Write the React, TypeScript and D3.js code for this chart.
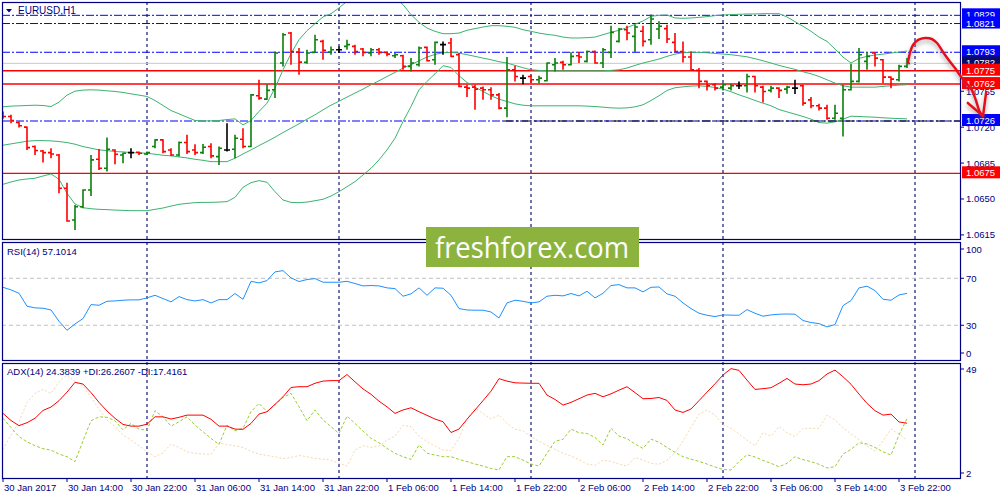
import React from "react";
import * as d3 from "d3";

// ---------- DATA (EURUSD H1, bar 0 = 30 Jan 2017 06:00) ----------
const opens = [
  1.07336,1.07304,1.07245,1.07200,1.07011,1.06968,1.06952,1.06929,1.06604,1.06295,
  1.06425,1.06588,1.06887,1.06799,1.06978,1.06929,1.06952,1.06955,1.06939,1.07011,
  1.07076,1.06978,1.06929,1.07050,1.06978,1.06952,1.07011,1.06913,1.06978,1.06985,
  1.07082,1.07011,1.07506,1.07473,1.07564,1.07825,1.08117,1.07932,1.07831,1.07929,
  1.08036,1.07932,1.07955,1.07987,1.07987,1.07961,1.07922,1.07955,1.07929,1.07896,
  1.07896,1.07792,1.07808,1.07978,1.07857,1.08004,1.08020,1.07906,1.07590,1.07590,
  1.07580,1.07564,1.07515,1.07385,1.07759,1.07678,1.07694,1.07662,1.07652,1.07808,
  1.07831,1.07808,1.07896,1.07841,1.07938,1.07825,1.07929,1.08036,1.08150,1.08085,
  1.08134,1.08052,1.08157,1.08160,1.08026,1.07938,1.07883,1.07753,1.07646,1.07613,
  1.07590,1.07580,1.07603,1.07603,1.07694,1.07590,1.07558,1.07580,1.07571,1.07580,
  1.07603,1.07466,1.07408,1.07385,1.07287,1.07287,1.07564,1.07646,1.07841,1.07922,
  1.07857,1.07688,1.07662,1.07792,
];
const highs = [
  1.07353,1.07320,1.07255,1.07206,1.07021,1.06978,1.06995,1.06939,1.06659,1.06441,
  1.06594,1.06929,1.06988,1.07099,1.06985,1.06952,1.06995,1.06962,1.06962,1.07082,
  1.07082,1.06995,1.07060,1.07125,1.07034,1.07037,1.07043,1.07011,1.07239,1.07125,
  1.07190,1.07522,1.07662,1.07619,1.07938,1.08117,1.08127,1.07971,1.07955,1.08101,
  1.08052,1.07987,1.07987,1.08052,1.08004,1.07971,1.07971,1.07971,1.07938,1.07922,
  1.07906,1.07873,1.07987,1.07987,1.08036,1.08036,1.08069,1.07922,1.07613,1.07613,
  1.07597,1.07590,1.07532,1.07883,1.07799,1.07711,1.07711,1.07701,1.07831,1.07873,
  1.07847,1.07929,1.07932,1.07948,1.07948,1.07971,1.08189,1.08166,1.08189,1.08199,
  1.08189,1.08297,1.08231,1.08199,1.08117,1.08036,1.07938,1.07776,1.07655,1.07629,
  1.07629,1.07623,1.07646,1.07720,1.07701,1.07603,1.07603,1.07590,1.07603,1.07662,
  1.07613,1.07493,1.07427,1.07418,1.07418,1.07613,1.07818,1.07971,1.07929,1.07929,
  1.07864,1.07694,1.07808,1.07873,
];
const lows = [
  1.07281,1.07239,1.07196,1.06978,1.06929,1.06855,1.06897,1.06555,1.06278,1.06197,
  1.06409,1.06529,1.06783,1.06767,1.06838,1.06848,1.06897,1.06929,1.06929,1.06995,
  1.06946,1.06920,1.06913,1.06939,1.06929,1.06939,1.06897,1.06832,1.06962,1.06897,
  1.06995,1.07004,1.07466,1.07466,1.07483,1.07792,1.07808,1.07711,1.07818,1.07922,
  1.07857,1.07906,1.07922,1.07955,1.07906,1.07890,1.07890,1.07906,1.07890,1.07873,
  1.07759,1.07743,1.07792,1.07841,1.07808,1.07906,1.07883,1.07590,1.07493,1.07369,
  1.07466,1.07466,1.07375,1.07297,1.07646,1.07619,1.07629,1.07629,1.07646,1.07743,
  1.07759,1.07802,1.07825,1.07831,1.07818,1.07776,1.07873,1.08026,1.08046,1.07932,
  1.07987,1.08004,1.08059,1.08020,1.07929,1.07831,1.07750,1.07580,1.07558,1.07558,
  1.07558,1.07558,1.07571,1.07538,1.07538,1.07440,1.07538,1.07483,1.07525,1.07522,
  1.07408,1.07385,1.07362,1.07271,1.07271,1.07108,1.07558,1.07636,1.07759,1.07792,
  1.07629,1.07580,1.07646,1.07776,
];
const closes = [
  1.07304,1.07265,1.07213,1.07001,1.06972,1.06952,1.06939,1.06604,1.06285,1.06425,
  1.06588,1.06881,1.06799,1.06985,1.06936,1.06946,1.06952,1.06946,1.06952,1.07076,
  1.06962,1.06929,1.07050,1.06962,1.06952,1.07004,1.06920,1.06995,1.06978,1.07092,
  1.07011,1.07515,1.07483,1.07558,1.07922,1.08101,1.07938,1.07834,1.07922,1.08052,
  1.07948,1.07955,1.07955,1.08004,1.07938,1.07929,1.07955,1.07929,1.07912,1.07906,
  1.07792,1.07825,1.07971,1.07847,1.08026,1.08004,1.07890,1.07597,1.07580,1.07571,
  1.07564,1.07515,1.07385,1.07759,1.07694,1.07678,1.07662,1.07678,1.07825,1.07825,
  1.07808,1.07890,1.07883,1.07938,1.07825,1.07955,1.08124,1.08157,1.08117,1.08176,
  1.08036,1.08254,1.08183,1.08059,1.07938,1.07883,1.07759,1.07646,1.07603,1.07580,
  1.07613,1.07603,1.07603,1.07694,1.07603,1.07548,1.07580,1.07558,1.07590,1.07580,
  1.07434,1.07408,1.07385,1.07287,1.07336,1.07564,1.07646,1.07906,1.07890,1.07873,
  1.07688,1.07668,1.07792,1.07822,
];
const bbUpper = [
  1.07398,1.07405,1.07408,1.07411,1.07414,1.07411,1.07401,1.07444,1.07512,1.07551,
  1.07561,1.07564,1.07561,1.07554,1.07548,1.07538,1.07525,1.07512,1.07499,1.07460,
  1.07411,1.07362,1.07330,1.07297,1.07265,1.07261,1.07261,1.07265,1.07274,1.07281,
  1.07222,1.07265,1.07353,1.07434,1.07580,1.07759,1.07916,1.08052,1.08140,1.08209,
  1.08274,1.08306,1.08362,1.08427,1.08492,1.08541,1.08557,1.08541,1.08508,1.08459,
  1.08394,1.08297,1.08222,1.08166,1.08134,1.08111,1.08111,1.08117,1.08144,1.08160,
  1.08176,1.08189,1.08189,1.08183,1.08173,1.08150,1.08134,1.08117,1.08104,1.08095,
  1.08078,1.08069,1.08069,1.08072,1.08078,1.08101,1.08124,1.08144,1.08170,1.08202,
  1.08235,1.08280,1.08290,1.08293,1.08264,1.08261,1.08264,1.08270,1.08277,1.08287,
  1.08293,1.08297,1.08300,1.08303,1.08303,1.08306,1.08306,1.08306,1.08274,1.08228,
  1.08183,1.08134,1.08078,1.08036,1.07961,1.07883,1.07825,1.07870,1.07890,1.07903,
  1.07912,1.07922,1.07932,1.07942,
];
const bbMiddle = [
  1.07024,1.07037,1.07050,1.07063,1.07069,1.07069,1.07066,1.07060,1.07050,1.07034,
  1.07011,1.06995,1.06978,1.06972,1.06962,1.06959,1.06952,1.06949,1.06946,1.06936,
  1.06926,1.06920,1.06910,1.06900,1.06887,1.06877,1.06864,1.06864,1.06864,1.06897,
  1.06939,1.06978,1.07021,1.07060,1.07102,1.07148,1.07190,1.07232,1.07278,1.07320,
  1.07369,1.07414,1.07453,1.07493,1.07532,1.07571,1.07613,1.07652,1.07694,1.07733,
  1.07776,1.07808,1.07847,1.07883,1.07909,1.07925,1.07929,1.07922,1.07906,1.07890,
  1.07873,1.07857,1.07838,1.07825,1.07802,1.07779,1.07759,1.07753,1.07750,1.07750,
  1.07750,1.07750,1.07750,1.07750,1.07750,1.07750,1.07753,1.07759,1.07776,1.07802,
  1.07825,1.07844,1.07864,1.07890,1.07912,1.07925,1.07929,1.07929,1.07925,1.07919,
  1.07912,1.07906,1.07896,1.07886,1.07867,1.07847,1.07825,1.07802,1.07782,1.07763,
  1.07740,1.07720,1.07694,1.07662,1.07629,1.07603,1.07590,1.07590,1.07590,1.07590,
  1.07597,1.07603,1.07610,1.07613,
];
const bbLower = [
  1.06643,1.06666,1.06685,1.06695,1.06702,1.06724,1.06744,1.06692,1.06555,1.06451,
  1.06415,1.06405,1.06399,1.06396,1.06392,1.06389,1.06386,1.06386,1.06386,1.06399,
  1.06412,1.06431,1.06448,1.06457,1.06464,1.06467,1.06467,1.06470,1.06474,1.06516,
  1.06614,1.06659,1.06679,1.06663,1.06571,1.06490,1.06467,1.06464,1.06470,1.06483,
  1.06497,1.06529,1.06571,1.06620,1.06669,1.06734,1.06799,1.06881,1.06978,1.07092,
  1.07255,1.07401,1.07564,1.07646,1.07720,1.07799,1.07782,1.07701,1.07636,1.07590,
  1.07548,1.07506,1.07473,1.07450,1.07427,1.07414,1.07408,1.07408,1.07408,1.07408,
  1.07408,1.07408,1.07408,1.07405,1.07401,1.07395,1.07388,1.07385,1.07388,1.07398,
  1.07418,1.07460,1.07506,1.07558,1.07584,1.07593,1.07600,1.07603,1.07597,1.07587,
  1.07571,1.07545,1.07515,1.07489,1.07460,1.07434,1.07408,1.07372,1.07349,1.07327,
  1.07304,1.07278,1.07245,1.07239,1.07252,1.07278,1.07307,1.07304,1.07300,1.07297,
  1.07291,1.07287,1.07284,1.07281,
];
const rsi = [
  62.3,60.1,57.2,46.2,44.8,44.5,43.0,33.4,25.7,31.1,
  35.7,47.6,47.0,50.4,50.7,51.3,51.6,51.6,53.3,55.5,
  52.7,49.9,54.4,51.8,50.7,51.8,49.0,51.8,51.8,57.0,
  52.1,67.4,66.0,68.0,75.4,76.5,70.3,67.2,68.9,69.7,
  66.6,66.6,66.6,67.4,65.5,63.5,63.8,63.5,61.8,61.2,
  54.7,56.7,61.8,55.5,61.8,61.5,55.5,44.2,43.0,42.8,
  42.8,41.3,36.2,49.0,51.3,50.4,49.0,49.9,54.7,55.5,
  55.0,57.0,55.0,58.9,53.3,57.2,63.8,64.6,61.8,61.8,
  58.4,62.3,62.6,56.7,54.7,49.0,44.2,40.2,38.5,37.4,
  38.8,38.6,38.5,43.3,40.2,37.7,38.8,39.4,39.6,39.4,
  34.0,32.3,31.4,28.6,30.6,46.7,51.0,61.8,63.2,59.5,
  52.1,51.3,55.8,57.1014,
];
const adx = [
  28.4,25.5,23.4,24.6,26.4,29.6,31.0,33.6,37.1,41.1,
  40.4,36.9,32.9,29.4,26.4,23.9,23.2,23.2,24.0,27.0,
  27.0,26.1,26.8,27.7,27.7,27.7,26.0,23.2,23.2,22.0,
  21.9,24.3,28.1,29.1,32.1,35.2,39.0,39.3,39.3,40.7,
  41.6,41.8,41.8,44.3,41.3,38.4,36.2,33.4,31.1,28.4,
  29.8,30.7,29.1,27.6,26.1,25.0,20.6,22.0,26.0,29.8,
  33.6,37.5,42.6,41.6,40.9,40.8,40.7,40.7,35.9,34.1,
  31.8,32.9,34.4,35.9,36.6,35.2,36.4,37.9,39.3,36.9,
  34.4,34.5,34.9,33.7,29.8,28.8,30.2,33.6,37.1,40.5,
  44.1,46.7,46.0,42.0,38.2,38.5,38.9,40.7,42.7,40.4,
  40.1,40.4,41.8,44.5,46.1,43.4,40.3,36.3,32.5,29.5,
  27.7,28.1,24.9,24.3839,
];
const plusDI = [
  26.4,22.6,18.9,16.8,15.2,14.0,13.4,11.8,10.7,8.7,
  17.2,25.4,27.0,26.8,25.4,21.7,24.3,21.9,21.6,29.5,
  27.0,23.2,25.0,27.0,23.6,20.9,18.2,15.7,23.6,21.3,
  22.3,29.1,32.5,29.1,31.8,34.9,36.6,31.1,25.4,29.8,
  25.7,23.0,20.2,27.3,24.3,21.2,18.2,16.4,14.1,12.1,
  10.7,9.6,15.5,12.1,11.4,10.7,10.7,9.6,8.7,7.7,
  6.9,5.9,5.3,10.7,10.7,9.3,7.7,6.9,12.1,17.0,
  17.8,22.0,20.5,20.2,18.6,15.5,22.3,19.1,18.1,15.9,
  14.1,17.9,16.6,14.5,12.5,10.7,9.7,8.8,7.7,6.5,
  5.5,5.3,8.7,11.5,10.6,9.2,8.0,6.6,8.0,10.7,
  9.5,8.7,7.6,6.1,6.6,11.8,13.7,16.4,15.9,14.5,
  12.7,11.4,19.6,26.2607,
];
const minusDI = [
  13.7,19.6,25.0,32.8,36.6,38.2,36.6,41.3,44.1,41.3,
  39.6,34.9,30.2,25.7,23.0,19.6,17.5,15.2,12.7,10.7,
  12.3,15.9,14.5,12.7,12.1,11.8,11.7,16.2,15.7,15.1,
  14.5,12.9,11.8,11.2,10.7,9.9,10.4,11.2,10.7,10.0,
  9.7,9.3,8.0,6.9,13.4,15.2,14.5,15.1,17.5,19.1,
  23.5,23.0,19.1,16.8,15.1,13.4,13.2,18.2,26.4,30.5,
  28.4,26.1,27.7,24.3,21.9,21.3,18.9,17.0,15.3,13.7,
  12.1,11.0,9.5,7.7,7.2,9.3,8.8,7.7,6.9,10.4,
  9.3,8.0,7.6,9.3,12.3,17.2,22.7,28.1,29.8,27.7,
  23.8,22.3,20.0,17.5,15.1,20.5,19.1,23.0,20.5,18.9,
  22.3,22.3,22.3,27.7,25.7,22.6,20.0,17.8,15.1,13.0,
  17.2,22.0,20.0,17.4161,
];

const timeBars = [0, 8, 16, 24, 32, 40, 48, 56, 64, 72, 80, 88, 96, 104, 112];
const timeLabels = [
  "30 Jan 2017", "30 Jan 14:00", "30 Jan 22:00", "31 Jan 06:00", "31 Jan 14:00",
  "31 Jan 22:00", "1 Feb 06:00", "1 Feb 14:00", "1 Feb 22:00", "2 Feb 06:00",
  "2 Feb 14:00", "2 Feb 22:00", "3 Feb 06:00", "3 Feb 14:00", "3 Feb 22:00",
];
const daySeparatorBars = [18, 42, 66, 90, 114];
const priceTicks = [1.0615, 1.065, 1.0685, 1.072, 1.0755];
const rsiTicks = [100, 70, 30, 0];
const rsiLevels = [70, 30];
const adxTicks = [49, 2];
const blueLevels = [1.0829, 1.0821, 1.0793, 1.0726];
const redLevels = [1.0775, 1.0762, 1.0675];
const resistanceLevel = 1.08135;
const resistanceFromBar = 35;
const supportLevel = 1.0726;
const supportFromBar = 62.6;
// hand-drawn forecast arrow (bar index, price)
const arrowBars = [113.1, 113.4, 113.75, 114.4, 115.25, 116.1, 116.75, 117.5, 118.4, 119, 119.6, 120.25, 121.1, 121.6, 122.1, 122.5];
const arrowPrices = [1.07825, 1.07932, 1.08001, 1.0805, 1.08069, 1.08059, 1.0802, 1.07933, 1.07835, 1.07777, 1.07708, 1.0764, 1.07562, 1.07465, 1.07348, 1.07309];
const arrowHeadBars = [120.6, 122.5, 122.9];
const arrowHeadPrices = [1.07436, 1.07309, 1.07543];

// ---------- STYLE ----------
const NAVY = "#000080";
const UP = "#0b800b";
const DOWN = "#ff0000";
const DOJI = "#000000";
const BB = "#3cb371";
const FONT = "'Liberation Sans', Arial, sans-serif";

const PL = 2, PR = 960;
const MAIN = { top: 2, bottom: 239 };
const RSIP = { top: 242, bottom: 360 };
const ADXP = { top: 363, bottom: 478 };

export default function App() {
  const n = closes.length;
  const x = d3.scaleLinear().domain([0, 113]).range([3, 907]);
  const y = d3.scaleLinear().domain([1.0611, 1.0841]).range([239, 3]);
  const yR = d3.scaleLinear().domain([0, 100]).range([360.5, 243]);
  const yA = d3.scaleLinear().domain([2, 49]).range([478, 363]);

  const priceLine = d3.line<number>().x((_, i) => x(i)).y((v) => y(v));
  const rsiLine = d3.line<number>().x((_, i) => x(i)).y((v) => yR(v));
  const adxLine = d3.line<number>().x((_, i) => x(i)).y((v) => yA(v));
  const arrowPath = d3
    .line<number>()
    .x((b) => x(b))
    .y((_, i) => y(arrowPrices[i]))
    .curve(d3.curveCatmullRom)(arrowBars);
  const arrowHead = d3
    .line<number>()
    .x((b) => x(b))
    .y((_, i) => y(arrowHeadPrices[i]))(arrowHeadBars);

  const bid = closes[n - 1];

  const box = (v: number, fill: string, key: string) => (
    <g key={key}>
      <rect x={962} y={y(v) - 7} width={38} height={12} fill={fill} />
      <text x={966} y={y(v) + 3} fill="#ffffff" fontSize={9.5} fontFamily={FONT}>
        {v.toFixed(4)}
      </text>
    </g>
  );

  return (
    <svg
      width={1000}
      height={500}
      style={{ position: "absolute", left: 0, top: 0, background: "#ffffff" }}
    >
      <defs>
        <clipPath id="cMain">
          <rect x={PL} y={MAIN.top} width={PR - PL} height={MAIN.bottom - MAIN.top} />
        </clipPath>
        <clipPath id="cRsi">
          <rect x={PL} y={RSIP.top} width={PR - PL} height={RSIP.bottom - RSIP.top} />
        </clipPath>
        <clipPath id="cAdx">
          <rect x={PL} y={ADXP.top} width={PR - PL} height={ADXP.bottom - ADXP.top} />
        </clipPath>
        <filter id="shadow" x="-10%" y="-300%" width="120%" height="700%">
          <feDropShadow dx={0} dy={3} stdDeviation={2.2} floodColor="#555" floodOpacity={0.5} />
        </filter>
      </defs>
      <rect x={0} y={0} width={1000} height={500} fill="#ffffff" />

      {/* day separators */}
      {daySeparatorBars.map((b) => (
        <line key={"sep" + b} x1={x(b)} x2={x(b)} y1={MAIN.top} y2={ADXP.bottom}
          stroke="#00006a" strokeWidth={1.1} strokeDasharray="3,3" />
      ))}

      {/* MAIN PANEL */}
      <g clipPath="url(#cMain)">
        <line x1={PL} x2={PR} y1={y(bid)} y2={y(bid)} stroke="#c8c8c8" strokeWidth={1} />
        {blueLevels.map((v) => (
          <line key={"bl" + v} x1={PL} x2={PR} y1={y(v)} y2={y(v)} stroke="#0000ff"
            strokeWidth={1} strokeDasharray="8,2,2,2" />
        ))}
        {redLevels.map((v) => (
          <line key={"rl" + v} x1={PL} x2={PR} y1={y(v)} y2={y(v)} stroke="#ff0000" strokeWidth={1.4} />
        ))}
        <path d={priceLine(bbUpper) || ""} fill="none" stroke={BB} strokeWidth={1} />
        <path d={priceLine(bbMiddle) || ""} fill="none" stroke={BB} strokeWidth={1} />
        <path d={priceLine(bbLower) || ""} fill="none" stroke={BB} strokeWidth={1} />
        {closes.map((c, i) => {
          const o = opens[i];
          const col = c > o ? UP : c < o ? DOWN : DOJI;
          const xi = x(i);
          return (
            <path key={"bar" + i}
              d={`M${xi},${y(highs[i])}V${y(lows[i])}M${xi - 3},${y(o)}H${xi}M${xi},${y(c)}H${xi + 3}`}
              stroke={col} strokeWidth={1.6} fill="none" />
          );
        })}
      </g>
      {/* support (yellow) and resistance (thick blue) */}
      <g filter="url(#shadow)">
        <line x1={x(supportFromBar)} x2={PR} y1={y(supportLevel)} y2={y(supportLevel)}
          stroke="#ffff00" strokeWidth={4} />
      </g>
      <line x1={x(supportFromBar)} x2={PR} y1={y(supportLevel)} y2={y(supportLevel)}
        stroke="#000000" strokeWidth={1.1} strokeDasharray="9,3,3,3" />
      <g filter="url(#shadow)">
        <line x1={x(resistanceFromBar)} x2={963} y1={y(resistanceLevel)} y2={y(resistanceLevel)}
          stroke="#0000ff" strokeWidth={4} />
      </g>

      {/* RSI PANEL */}
      <g clipPath="url(#cRsi)">
        {rsiLevels.map((v) => (
          <line key={"rsl" + v} x1={PL} x2={PR} y1={yR(v)} y2={yR(v)} stroke="#c0c0c0"
            strokeWidth={1} strokeDasharray="4,3" />
        ))}
        <path d={rsiLine(rsi) || ""} fill="none" stroke="#1e90ff" strokeWidth={1} />
      </g>

      {/* ADX PANEL */}
      <g clipPath="url(#cAdx)">
        <path d={adxLine(minusDI) || ""} fill="none" stroke="#f5d7ad" strokeWidth={1} strokeDasharray="2,2" />
        <path d={adxLine(plusDI) || ""} fill="none" stroke="#9acd32" strokeWidth={1} strokeDasharray="3,2" />
        <path d={adxLine(adx) || ""} fill="none" stroke="#ff0000" strokeWidth={1} />
      </g>

      {/* frames */}
      {[MAIN, RSIP, ADXP].map((p, k) => (
        <rect key={"fr" + k} x={PL + 0.5} y={p.top + 0.5} width={PR - PL} height={p.bottom - p.top}
          fill="none" stroke={NAVY} strokeWidth={1.2} />
      ))}

      {/* price axis */}
      {priceTicks.map((v) => (
        <g key={"pt" + v}>
          <line x1={PR} x2={PR + 4} y1={y(v)} y2={y(v)} stroke={NAVY} />
          <text x={966} y={y(v) + 3.5} fill={NAVY} fontSize={9.5} fontFamily={FONT}>{v.toFixed(4)}</text>
        </g>
      ))}
      {blueLevels.map((v) => box(v, "#0000ff", "bb" + v))}
      {box(bid, "#0a0a66", "bid")}
      {redLevels.map((v) => box(v, "#ff0000", "rb" + v))}

      {/* RSI axis */}
      {rsiTicks.map((v) => {
        const yy = Math.min(Math.max(yR(v), RSIP.top + 7), RSIP.bottom - 7);
        return (
          <g key={"rt" + v}>
            <line x1={PR} x2={PR + 4} y1={yy} y2={yy} stroke={NAVY} />
            <text x={966} y={yy + 3.5} fill={NAVY} fontSize={9.5} fontFamily={FONT}>{v}</text>
          </g>
        );
      })}
      {/* ADX axis */}
      {adxTicks.map((v) => {
        const yy = Math.min(Math.max(yA(v), ADXP.top + 6), ADXP.bottom - 5);
        return (
          <g key={"at" + v}>
            <line x1={PR} x2={PR + 4} y1={yy} y2={yy} stroke={NAVY} />
            <text x={966} y={yy + 3.5} fill={NAVY} fontSize={9.5} fontFamily={FONT}>{v}</text>
          </g>
        );
      })}

      {/* time axis */}
      {timeBars.map((b, k) => (
        <g key={"tb" + b}>
          <line x1={x(b)} x2={x(b)} y1={ADXP.bottom} y2={ADXP.bottom + 4} stroke={NAVY} />
          <text x={x(b) + 1} y={491} fill={NAVY} fontSize={9.5} fontFamily={FONT}>{timeLabels[k]}</text>
        </g>
      ))}

      {/* titles */}
      <path d="M6,9 L12,9 L9,12.5 Z" fill={NAVY} />
      <text x={18} y={14} fill={NAVY} fontSize={10} fontFamily={FONT}>EURUSD,H1</text>
      <text x={7} y={255} fill={NAVY} fontSize={9.5} fontFamily={FONT}>
        {`RSI(14) ${rsi[n - 1].toFixed(4)}`}
      </text>
      <text x={7} y={375} fill={NAVY} fontSize={9.5} fontFamily={FONT}>
        {`ADX(14) ${adx[n - 1].toFixed(4)} +DI:${plusDI[n - 1].toFixed(4)} -DI:${minusDI[n - 1].toFixed(4)}`}
      </text>

      {/* watermark */}
      <rect x={426} y={227} width={213} height={40} fill="#8db33f" />
      <text x={435} y={258} fill="#ffffff" fontSize={30} fontFamily="'Open Sans', sans-serif"
        textLength={194} lengthAdjust="spacingAndGlyphs">freshforex.com</text>

      {/* forecast arrow */}
      <g filter="url(#shadow)">
        <path d={arrowPath || ""} fill="none" stroke="#e8101a" strokeWidth={2.5} strokeLinecap="round" />
        <path d={arrowHead || ""} fill="none" stroke="#e8101a" strokeWidth={2.5} strokeLinecap="round" strokeLinejoin="round" />
      </g>
    </svg>
  );
}
